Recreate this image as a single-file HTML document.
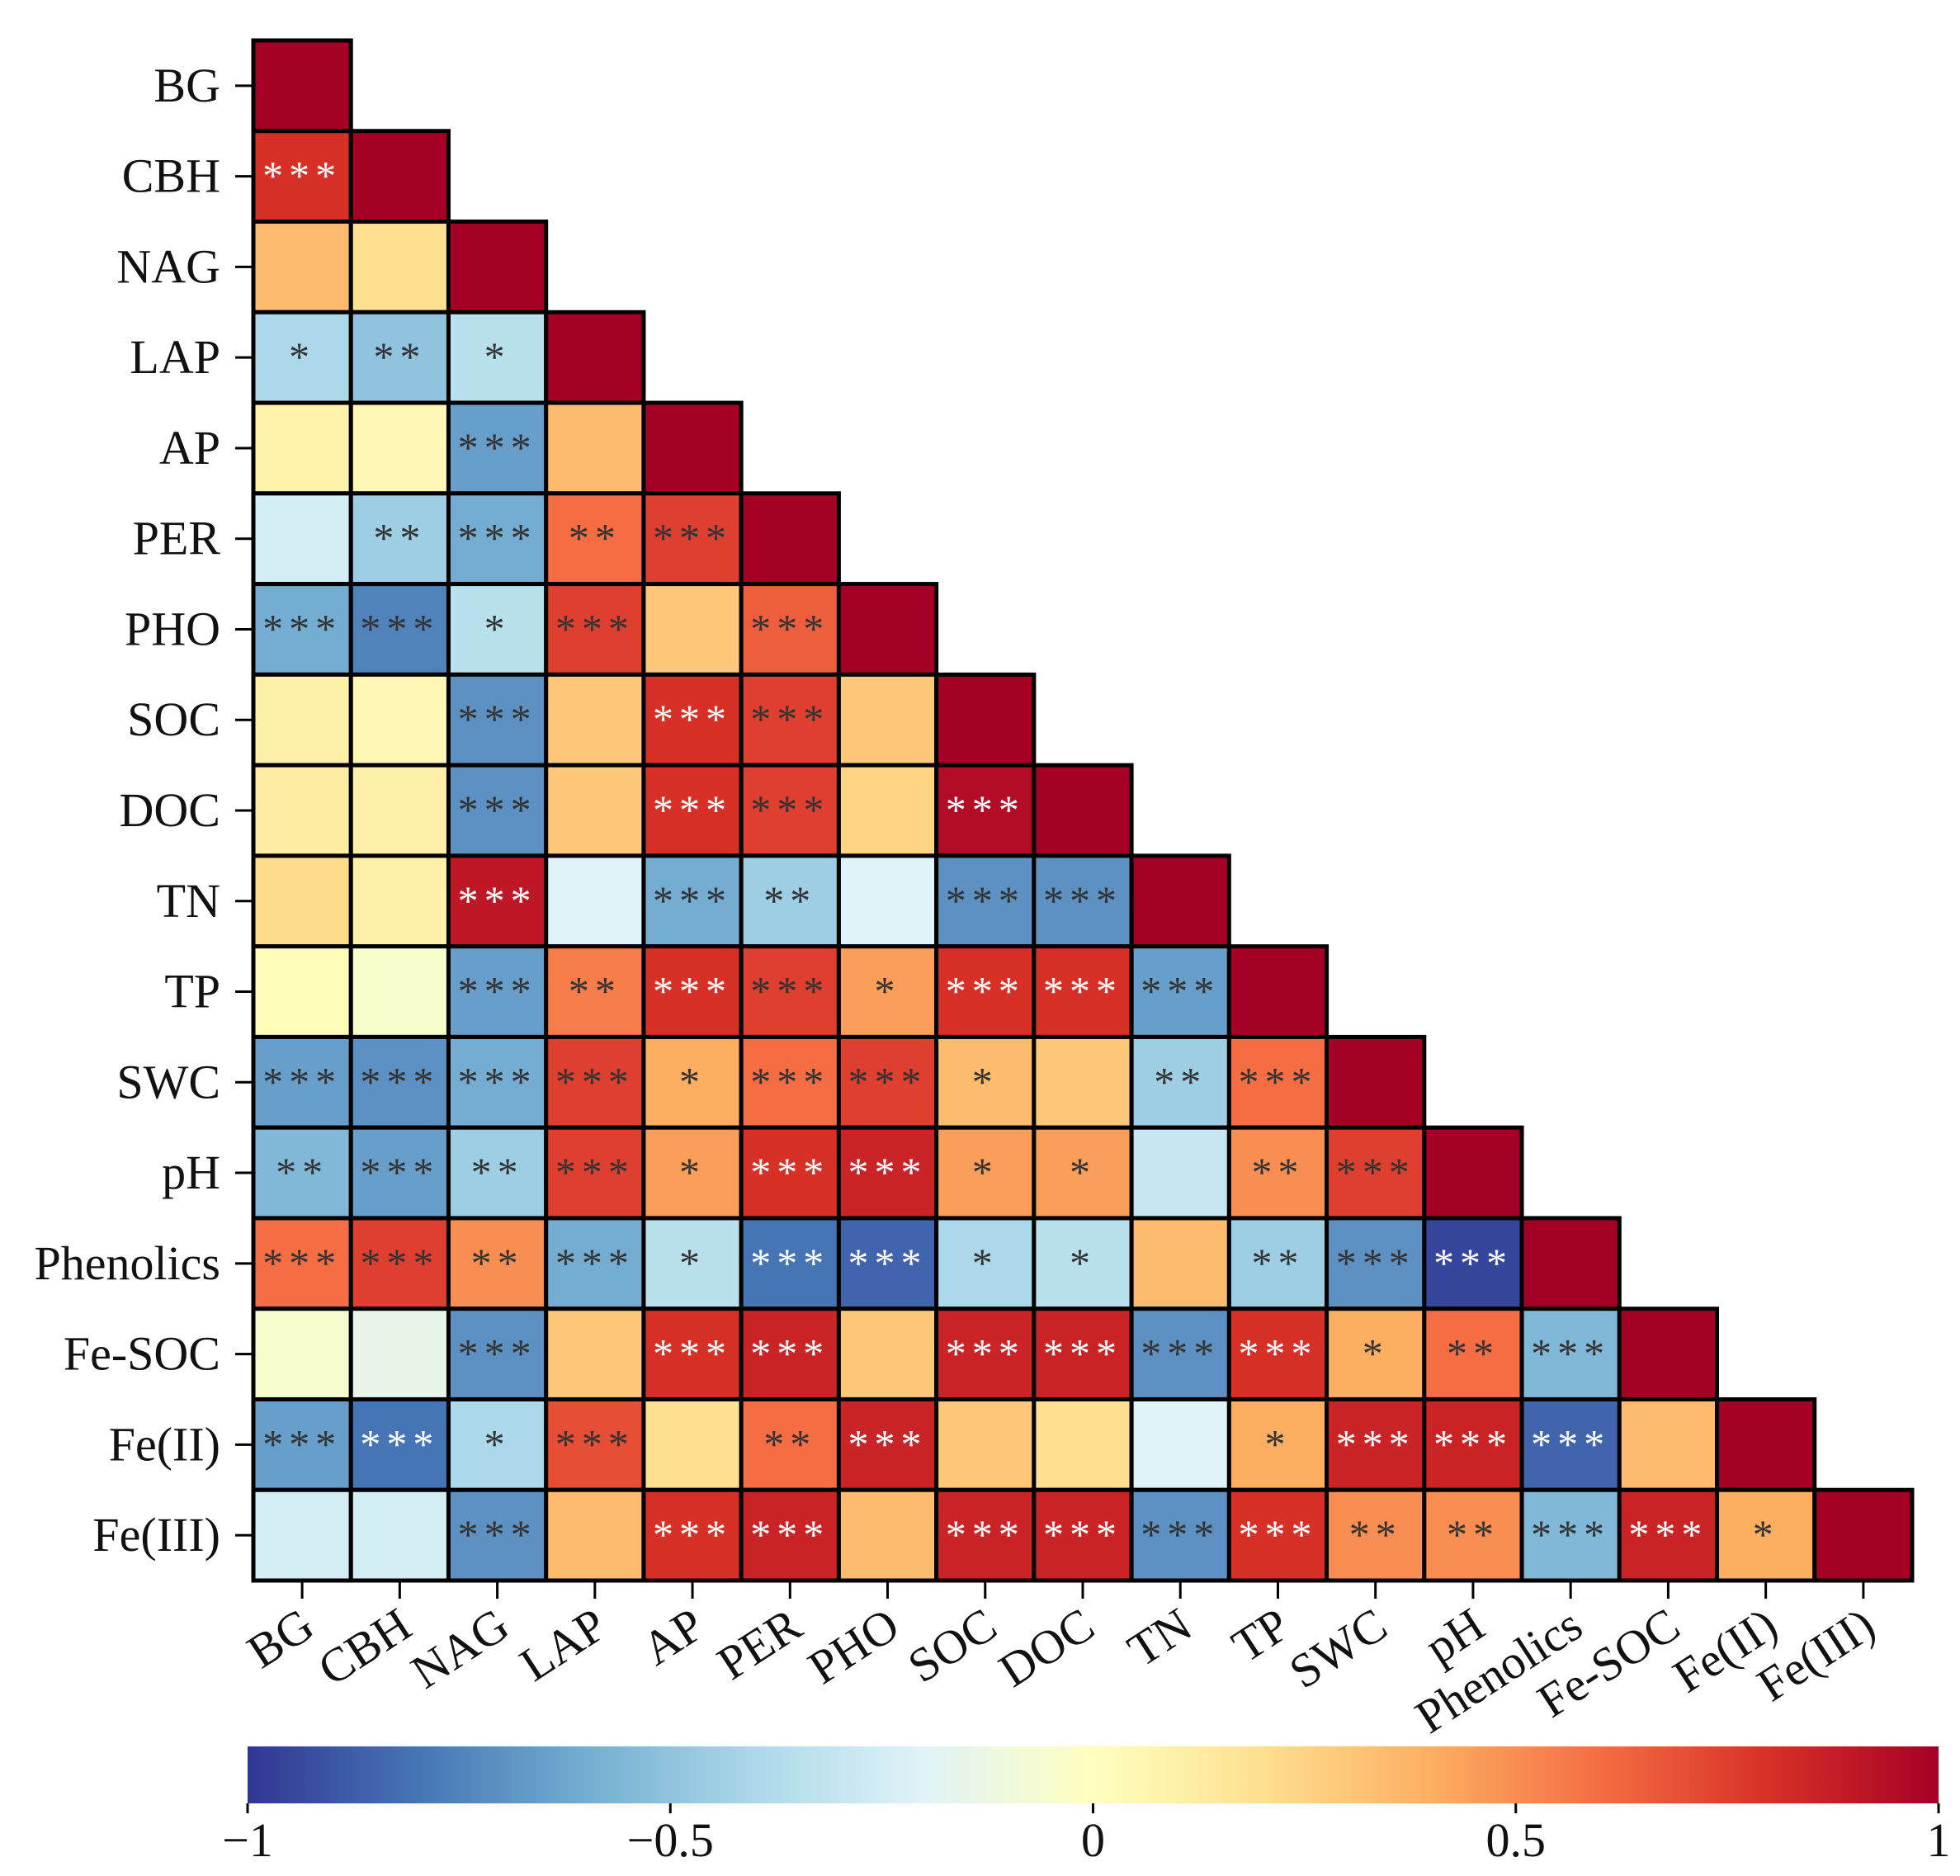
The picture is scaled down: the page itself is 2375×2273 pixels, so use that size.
<!DOCTYPE html>
<html><head><meta charset="utf-8"><style>
html,body{margin:0;padding:0;background:#fff;}
svg{display:block;font-family:"Liberation Serif",serif;}
</style></head><body>
<svg id="chart" width="2375" height="2273" viewBox="0 0 2375 2273" xmlns="http://www.w3.org/2000/svg">
<defs>
<linearGradient id="cbgrad" x1="0" x2="1" y1="0" y2="0">
<stop offset="0" stop-color="#313695"/><stop offset="0.1" stop-color="#4575b4"/><stop offset="0.2" stop-color="#74add1"/><stop offset="0.3" stop-color="#abd9e9"/><stop offset="0.4" stop-color="#e0f3f8"/><stop offset="0.5" stop-color="#ffffbf"/><stop offset="0.6" stop-color="#fee090"/><stop offset="0.7" stop-color="#fdae61"/><stop offset="0.8" stop-color="#f46d43"/><stop offset="0.9" stop-color="#d73027"/><stop offset="1" stop-color="#a50026"/>
</linearGradient>
</defs>
<g id="cells"></g>
<g id="axes"></g>
<g id="colorbar"></g>
</svg>
<script>
const categories = ["BG","CBH","NAG","LAP","AP","PER","PHO","SOC","DOC","TN","TP","SWC","pH","Phenolics","Fe-SOC","Fe(II)","Fe(III)"];
const values = [
[1],
[0.8,1],
[0.35,0.2,1],
[-0.4,-0.5,-0.35,1],
[0.08,0.05,-0.65,0.35,1],
[-0.25,-0.45,-0.6,0.6,0.75,1],
[-0.6,-0.75,-0.35,0.75,0.3,0.65,1],
[0.1,0.05,-0.7,0.3,0.8,0.75,0.3,1],
[0.12,0.1,-0.7,0.3,0.8,0.75,0.25,0.95,1],
[0.22,0.1,0.9,-0.2,-0.6,-0.45,-0.2,-0.7,-0.7,1],
[0.02,-0.05,-0.65,0.55,0.8,0.75,0.45,0.8,0.8,-0.65,1],
[-0.65,-0.7,-0.6,0.75,0.4,0.6,0.75,0.35,0.3,-0.45,0.6,1],
[-0.55,-0.65,-0.45,0.75,0.45,0.8,0.85,0.45,0.45,-0.3,0.5,0.75,1],
[0.6,0.75,0.5,-0.6,-0.35,-0.8,-0.85,-0.4,-0.35,0.35,-0.45,-0.7,-0.95,1],
[-0.05,-0.15,-0.7,0.3,0.8,0.85,0.3,0.85,0.85,-0.7,0.8,0.4,0.6,-0.55,1],
[-0.65,-0.8,-0.4,0.7,0.2,0.6,0.85,0.3,0.2,-0.2,0.4,0.85,0.85,-0.85,0.35,1],
[-0.25,-0.25,-0.7,0.35,0.8,0.85,0.35,0.85,0.85,-0.7,0.8,0.5,0.5,-0.55,0.85,0.4,1]
];
const stars = [
[""],
["***",""],
["","",""],
["*","**","*",""],
["","","***","",""],
["","**","***","**","***",""],
["***","***","*","***","","***",""],
["","","***","","***","***","",""],
["","","***","","***","***","","***",""],
["","","***","","***","**","","***","***",""],
["","","***","**","***","***","*","***","***","***",""],
["***","***","***","***","*","***","***","*","","**","***",""],
["**","***","**","***","*","***","***","*","*","","**","***",""],
["***","***","**","***","*","***","***","*","*","","**","***","***",""],
["","","***","","***","***","","***","***","***","***","*","**","***",""],
["***","***","*","***","","**","***","","","","*","***","***","***","",""],
["","","***","","***","***","","***","***","***","***","**","**","***","***","*",""]
];
const cbTicks = [-1,-0.5,0,0.5,1];
const cbTickLabels = ["\u22121","\u22120.5","0","0.5","1"];

const NS="http://www.w3.org/2000/svg";
const L=307, R=2317, T=49, B=1915, N=categories.length;
const cw=(R-L)/N, ch=(B-T)/N;
const xPos=i=>L+i*cw, yPos=i=>T+i*ch;
const stops=[[-1,[49,54,149]],[-0.8,[69,117,180]],[-0.6,[116,173,209]],[-0.4,[171,217,233]],[-0.2,[224,243,248]],[0,[255,255,191]],[0.2,[254,224,144]],[0.4,[253,174,97]],[0.6,[244,109,67]],[0.8,[215,48,39]],[1,[165,0,38]]];
function cmap(v){v=Math.max(-1,Math.min(1,v));for(let k=0;k<stops.length-1;k++){const [a,ca]=stops[k],[b,cb]=stops[k+1];if(v<=b){const t=(v-a)/(b-a);return "rgb("+ca.map((c,j)=>Math.round(c+(cb[j]-c)*t)).join(",")+")";}}return "rgb(165,0,38)";}
function mk(tag,attrs,parent){const e=document.createElementNS(NS,tag);for(const k in attrs)e.setAttribute(k,attrs[k]);parent.appendChild(e);return e;}
const cells=document.getElementById("cells"), axes=document.getElementById("axes"), cbar=document.getElementById("colorbar");
for(let r=0;r<N;r++){for(let c=0;c<=r;c++){
 const v=values[r][c];
 const rect=mk("rect",{x:xPos(c),y:yPos(r),width:cw,height:ch,fill:cmap(v),stroke:"#000","stroke-width":5},cells);
 
 
 const s=stars[r][c];
 if(s){const t=mk("text",{x:xPos(c)+cw/2,y:yPos(r)+ch/2+16,"text-anchor":"middle","font-size":50,"letter-spacing":7,fill:Math.abs(v)>=0.78?"#fff":"#333"},cells);t.textContent=s;
 
 }
}}
for(let i=0;i<N;i++){
 const yc=yPos(i)+ch/2;
 mk("line",{x1:L-22,x2:L,y1:yc,y2:yc,stroke:"#000","stroke-width":3},axes);
 const yl=mk("text",{x:L-40,y:yc+19,"text-anchor":"end","font-size":58,fill:"#111"},axes);yl.textContent=categories[i];
 
 
 const xc=xPos(i)+cw/2;
 mk("line",{x1:xc,x2:xc,y1:B,y2:B+22,stroke:"#000","stroke-width":3},axes);
 const xl=mk("text",{x:xc+18,y:B+64,"text-anchor":"end","font-size":58,fill:"#111",transform:"rotate(-33 "+(xc+18)+" "+(B+64)+")"},axes);xl.textContent=categories[i];
 
 
}
const cbL=300,cbR=2349,cbT=2116,cbB=2185;
const cbx=v=>cbL+(v+1)/2*(cbR-cbL);
const cb=mk("rect",{x:cbL,y:cbT,width:cbR-cbL,height:cbB-cbT,fill:"url(#cbgrad)"},cbar);


cbTicks.forEach((v,i)=>{
 mk("line",{x1:cbx(v),x2:cbx(v),y1:cbB,y2:cbB+12,stroke:"#000","stroke-width":3},cbar);
 const t=mk("text",{x:cbx(v),y:cbB+64,"text-anchor":"middle","font-size":58,fill:"#111"},cbar);t.textContent=cbTickLabels[i];
 
 
});
</script>
</body></html>
